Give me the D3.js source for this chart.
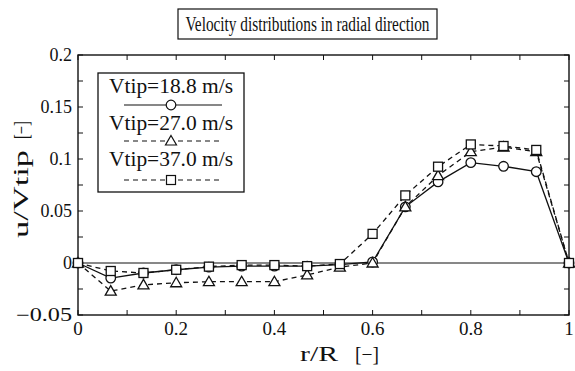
<!DOCTYPE html>
<html><head><meta charset="utf-8">
<script src="https://cdn.jsdelivr.net/npm/d3@7"></script>
<style>body{margin:0;background:#fff}svg{display:block}</style>
</head><body>
<svg id="c" width="575" height="371"></svg>
<script>
const rR = [0, 1/15, 2/15, 3/15, 4/15, 5/15, 6/15, 7/15, 8/15, 9/15, 10/15, 11/15, 12/15, 13/15, 14/15, 1];
const v188 = [0, -0.0145, -0.0096, -0.0065, -0.0040, -0.0030, -0.0030, -0.0030, -0.0015, 0.001, 0.054, 0.078, 0.0965, 0.093, 0.0878, 0];
const v270 = [0, -0.027, -0.021, -0.019, -0.018, -0.018, -0.018, -0.0115, -0.0040, 0.000, 0.054, 0.084, 0.107, 0.1115, 0.107, 0];
const v370 = [0, -0.0077, -0.0096, -0.0065, -0.0035, -0.0020, -0.0020, -0.0030, -0.0010, 0.028, 0.065, 0.0926, 0.114, 0.1125, 0.1087, 0];
const seriesNames = ["Vtip=18.8 m/s", "Vtip=27.0 m/s", "Vtip=37.0 m/s"];
const xTicks = [0, 0.2, 0.4, 0.6, 0.8, 1];
const yTicks = [-0.05, 0, 0.05, 0.1, 0.15, 0.2];
const yTickLabels = ["\u22120.05", "0", "0.05", "0.1", "0.15", "0.2"];

const svg = d3.select("#c");
const L = 78, R = 569, T = 55, B = 315;
const x = d3.scaleLinear().domain([0, 1]).range([L, R]);
const y = d3.scaleLinear().domain([-0.05, 0.2]).range([B, T]);
const ink = "#111";
const FONT = "Liberation Serif";

function txt(g, s, px, py, size, anchor, len) {
  const t = g.append("text").attr("x", px).attr("y", py).attr("font-size", size)
    .attr("font-family", FONT).attr("fill", ink).attr("text-anchor", anchor || "start").text(s);
  if (len) t.attr("textLength", len).attr("lengthAdjust", "spacingAndGlyphs");
  return t;
}

// frame
svg.append("rect").attr("x", L).attr("y", T).attr("width", R - L).attr("height", B - T)
  .attr("fill", "none").attr("stroke", ink).attr("stroke-width", 1.4);

// ticks (inward)
const xMinor = d3.range(0, 1.0001, 0.1);
const yMinor = d3.range(-0.05, 0.2001, 0.025);
const tk = svg.append("g").attr("stroke", ink).attr("stroke-width", 1);
xMinor.forEach(v => {
  tk.append("line").attr("x1", x(v)).attr("x2", x(v)).attr("y1", B).attr("y2", B - 5);
  tk.append("line").attr("x1", x(v)).attr("x2", x(v)).attr("y1", T).attr("y2", T + 5);
});
yMinor.forEach(v => {
  tk.append("line").attr("x1", L).attr("x2", L + 5).attr("y1", y(v)).attr("y2", y(v));
  tk.append("line").attr("x1", R).attr("x2", R - 5).attr("y1", y(v)).attr("y2", y(v));
});

// zero line
svg.append("line").attr("x1", L).attr("x2", R).attr("y1", y(0)).attr("y2", y(0))
  .attr("stroke", ink).attr("stroke-width", 1);

// tick labels
xTicks.forEach(v => txt(svg, String(v), x(v), B + 20, 19, "middle"));
yTicks.forEach((v, i) => txt(svg, yTickLabels[i], L - 6, y(v) + 6, 18, "end", i === 0 ? 56 : null));

// axis titles
txt(svg, "r/R", 300, 361, 20, "start", 38);
txt(svg, "[\u2212]", 355, 361, 20, "start", 24);
const yl = svg.append("g").attr("transform", "translate(28,0) rotate(-90)");
txt(yl, "u/Vtip", -238, 0, 20, "start", 88);
txt(yl, "[\u2212]", -139, 0, 20, "start", 18);

// title
svg.append("rect").attr("x", 178).attr("y", 9).attr("width", 259).attr("height", 30)
  .attr("fill", "none").attr("stroke", ink).attr("stroke-width", 1.2);
txt(svg, "Velocity distributions in radial direction", 307.5, 31, 20, "middle", 244);

// series
const series = [
  {vals: v188, dash: null, sym: "circle"},
  {vals: v270, dash: "5,4", sym: "triangle"},
  {vals: v370, dash: "5,4", sym: "square"}
];
const line = d3.line().x((d, i) => x(rR[i])).y(d => y(d));
function marker(g, sym, cx, cy) {
  if (sym === "circle") g.append("circle").attr("cx", cx).attr("cy", cy).attr("r", 4.8);
  else if (sym === "square") g.append("rect").attr("x", cx - 4.5).attr("y", cy - 4.5).attr("width", 9).attr("height", 9);
  else g.append("path").attr("d", `M${cx},${cy - 5.5}L${cx + 5.5},${cy + 4}L${cx - 5.5},${cy + 4}Z`);
}
series.forEach(s => {
  svg.append("path").datum(s.vals).attr("d", line).attr("fill", "none").attr("stroke", ink)
    .attr("stroke-width", 1.3).attr("stroke-dasharray", s.dash);
  const g = svg.append("g").attr("fill", "#fff").attr("stroke", ink).attr("stroke-width", 1.3);
  s.vals.forEach((v, i) => marker(g, s.sym, x(rR[i]), y(v)));
});

// legend
svg.append("rect").attr("x", 98).attr("y", 73).attr("width", 146).attr("height", 119)
  .attr("fill", "#fff").attr("stroke", ink).attr("stroke-width", 1.3);
const legTextY = [93, 130, 166];
const legLineY = [105, 141, 180];
series.forEach((s, i) => {
  txt(svg, seriesNames[i], 171, legTextY[i], 20, "middle", 124);
  svg.append("line").attr("x1", 124).attr("x2", 222).attr("y1", legLineY[i]).attr("y2", legLineY[i])
    .attr("stroke", ink).attr("stroke-width", 1.1).attr("stroke-dasharray", s.dash);
  const g = svg.append("g").attr("fill", "#fff").attr("stroke", ink).attr("stroke-width", 1.2);
  marker(g, s.sym, 171, legLineY[i]);
});
</script>
</body></html>
